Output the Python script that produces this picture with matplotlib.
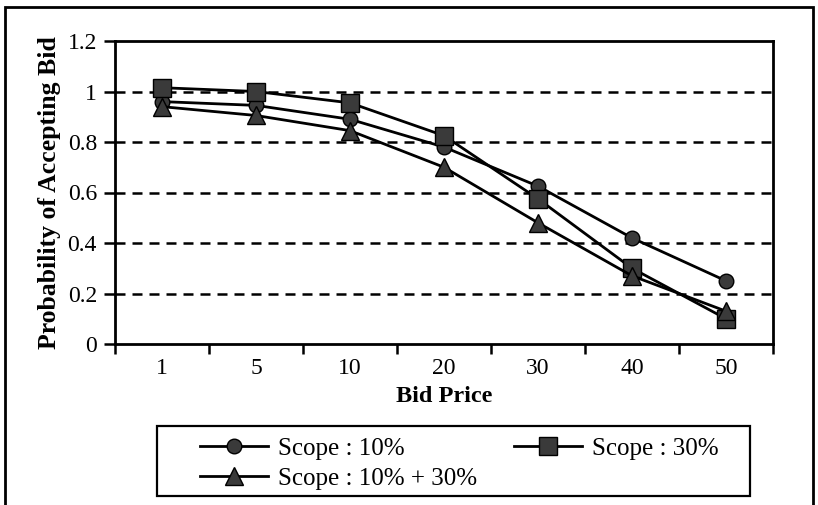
import matplotlib
matplotlib.use('Agg')
import matplotlib.pyplot as plt
from matplotlib.patches import Rectangle
import numpy as np

# data
bid_prices = ['1', '5', '10', '20', '30', '40', '50']
scope_10 = [0.96, 0.945, 0.89, 0.78, 0.625, 0.42, 0.25]
scope_30 = [1.015, 1.0, 0.955, 0.825, 0.575, 0.30, 0.10]
scope_10_30 = [0.94, 0.905, 0.845, 0.70, 0.48, 0.27, 0.13]
y_ticks = [0, 0.2, 0.4, 0.6, 0.8, 1, 1.2]
y_tick_labels = ['0', '0.2', '0.4', '0.6', '0.8', '1', '1.2']

plt.rcParams['font.family'] = ['Liberation Serif', 'DejaVu Serif']

W, H = 818, 505
fig = plt.figure(figsize=(W / 100, H / 100), dpi=100)
ax = fig.add_axes([115 / W, 1 - 344 / H, (773 - 115) / W, (344 - 41) / H])

# outer frame of the figure
fig.patches.append(Rectangle((5 / W, -0.05), 808 / W, 1.05 - 7 / H, transform=fig.transFigure,
                             fill=False, edgecolor='black', linewidth=2, zorder=0))
# legend box
fig.patches.append(Rectangle((157 / W, 1 - 496 / H), 593 / W, 70 / H, transform=fig.transFigure,
                             fill=False, edgecolor='black', linewidth=1.6, zorder=0))

x = np.arange(len(bid_prices))

# dashed horizontal gridlines
for yv in y_ticks[1:-1]:
    ax.axhline(yv, color='black', linestyle=(0, (4, 2.8)), linewidth=1.8, zorder=1)

fill = '#3a3a3a'
l1, = ax.plot(x, scope_10, color='black', linewidth=2, marker='o', markersize=10.5,
              markerfacecolor=fill, markeredgecolor='black', zorder=3)
l2, = ax.plot(x, scope_30, color='black', linewidth=2, marker='s', markersize=12.5,
              markerfacecolor=fill, markeredgecolor='black', zorder=3)
l3, = ax.plot(x, scope_10_30, color='black', linewidth=2, marker='^', markersize=12.5,
              markerfacecolor=fill, markeredgecolor='black', zorder=3)

ax.set_xlim(-0.5, len(bid_prices) - 0.5)
ax.set_ylim(0, 1.2)

ax.set_yticks(y_ticks)
ax.set_yticklabels(y_tick_labels, fontsize=17)
ax.tick_params(axis='y', direction='out', length=8, width=1.8, pad=5)

# category ticks sit between the categories
ax.set_xticks(np.arange(len(bid_prices) + 1) - 0.5)
ax.set_xticklabels([])
ax.tick_params(axis='x', direction='out', length=7, width=1.8)
ax.set_xticks(x, minor=True)
ax.set_xticklabels(bid_prices, minor=True, fontsize=17)
ax.tick_params(axis='x', which='minor', length=0, pad=10)

for spine in ax.spines.values():
    spine.set_linewidth(2)

ax.set_xlabel('Bid Price', fontsize=17.5, fontweight='bold', labelpad=5)
ax.set_ylabel('Probability of Accepting Bid', fontsize=18.5, fontweight='bold', labelpad=5)

leg = fig.legend([l1, l3, l2], ['Scope : 10%', 'Scope : 10% + 30%', 'Scope : 30%'],
                 ncol=2, loc='upper left', bbox_to_anchor=(200 / W, 1 - 437 / H),
                 bbox_transform=fig.transFigure, fontsize=18, frameon=False,
                 handlelength=2.7, labelspacing=0.3, borderpad=0, borderaxespad=0,
                 handletextpad=0.4, columnspacing=1.5)

fig.savefig('out.png', dpi=100)
